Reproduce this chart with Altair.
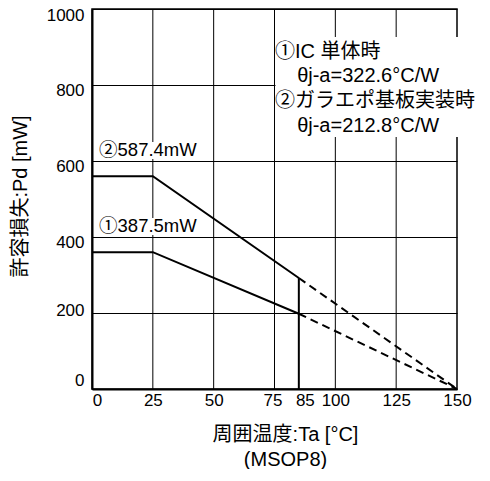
import altair as alt
import pandas as pd

FONT = "Liberation Sans, Noto Sans CJK JP, sans-serif"

# Derating curves (solid up to 85°C, dashed beyond)
temps_solid = [0, 25, 85]
pd_ic_solid = [360, 360, 198]
pd_board_solid = [560, 560, 292]
temps_dash = [85, 150]
pd_ic_dash = [198, 0]
pd_board_dash = [292, 0]

x_ticks = [0, 25, 50, 75, 85, 100, 125, 150]
x_grid = [25, 50, 75, 100, 125]
y_ticks = [0, 200, 400, 600, 800, 1000]

ann_text = ["②587.4mW", "①387.5mW"]
ann_x = [2.9, 2.9]
ann_y = [629, 429]

legend_lines = ["①IC 単体時", "θj-a=322.6°C/W", "②ガラエポ基板実装時", "θj-a=212.8°C/W"]
legend_x = [75.2, 84.3, 75.2, 84.3]
legend_y = [886, 823, 758, 692]

bg_x = [2.9, 2.9, 75.4]
bg_x2 = [43, 43, 152]
bg_y = [605, 405, 663]
bg_y2 = [650, 450, 926]

solid = pd.DataFrame({
    "t": temps_solid * 2,
    "p": pd_ic_solid + pd_board_solid,
    "s": ["ic"] * 3 + ["board"] * 3,
})
dashed = pd.DataFrame({
    "t": temps_dash * 2,
    "p": pd_ic_dash + pd_board_dash,
    "s": ["ic"] * 2 + ["board"] * 2,
})
grid_df = pd.DataFrame({"t": x_grid})
bg_df = pd.DataFrame({"x": bg_x, "x2": bg_x2, "y": bg_y, "y2": bg_y2})
ann_df = pd.DataFrame({"x": ann_x, "y": ann_y, "txt": ann_text})
leg_df = pd.DataFrame({"x": legend_x, "y": legend_y, "txt": legend_lines})
vline_df = pd.DataFrame({"t": [85], "p0": [0], "p1": [pd_board_solid[-1]]})

xscale = alt.Scale(domain=[0, 150], nice=False, zero=False)
yscale = alt.Scale(domain=[0, 1000], nice=False)

xaxis = alt.Axis(
    values=x_ticks, grid=False, ticks=False, labelFlush=False, format="d",
    labelPadding=3, labelFontSize=17, labelFont=FONT, labelColor="black",
    labelOffset=alt.ExprRef("datum.value == 0 ? 5 : datum.value == 85 ? 6 : datum.value == 75 ? -2 : 0"),
    title=["周囲温度:Ta [°C]", "(MSOP8)"], titleFont=FONT, titleFontSize=20,
    titleFontWeight="normal", titleColor="black", titleLineHeight=25,
    titleX=193, titleY=35, titleBaseline="top", titleAlign="center",
    domainColor="black", domainWidth=2,
)
yaxis = alt.Axis(
    values=y_ticks, grid=True, gridColor="black", gridWidth=1, gridOpacity=1,
    ticks=False, labelPadding=8, labelFontSize=17, labelFont=FONT, labelColor="black",
    labelBaseline="middle", format="d",
    labelOffset=alt.ExprRef("datum.value == 0 ? -9 : datum.value == 200 ? -3 : datum.value == 1000 ? 6 : 5"),
    title="許容損失:Pd [mW]", titleFont=FONT, titleFontSize=20,
    titleFontWeight="normal", titleColor="black",
    titleX=-72, titleY=187, titleAngle=-90, titleAlign="center", titleBaseline="middle",
    domainColor="black", domainWidth=2,
)

base_x = alt.X("t:Q", scale=xscale, axis=xaxis)
base_y = alt.Y("p:Q", scale=yscale, axis=yaxis)

grid = alt.Chart(grid_df).mark_rule(color="black", strokeWidth=1).encode(
    x=alt.X("t:Q", scale=xscale, axis=xaxis)
)

bg = alt.Chart(bg_df).mark_rect(color="white", clip=False).encode(
    x=alt.X("x:Q", scale=xscale), x2="x2:Q",
    y=alt.Y("y:Q", scale=yscale), y2="y2:Q",
)

solid_lines = alt.Chart(solid).mark_line(color="black", strokeWidth=2).encode(
    x=base_x, y=base_y, detail="s:N"
)
dashed_lines = alt.Chart(dashed).mark_line(color="black", strokeWidth=2, strokeDash=[8, 5]).encode(
    x=alt.X("t:Q", scale=xscale), y=alt.Y("p:Q", scale=yscale), detail="s:N"
)
vline = alt.Chart(vline_df).mark_rule(color="black", strokeWidth=2).encode(
    x=alt.X("t:Q", scale=xscale), y=alt.Y("p0:Q", scale=yscale), y2="p1:Q"
)

ann = alt.Chart(ann_df).mark_text(
    align="left", baseline="middle", font=FONT, fontSize=18.5, color="black"
).encode(x=alt.X("x:Q", scale=xscale), y=alt.Y("y:Q", scale=yscale), text="txt:N")

leg = alt.Chart(leg_df).mark_text(
    align="left", baseline="middle", font=FONT, fontSize=20, color="black"
).encode(x=alt.X("x:Q", scale=xscale), y=alt.Y("y:Q", scale=yscale), text="txt:N")

chart = alt.layer(grid, bg, solid_lines, dashed_lines, vline, ann, leg).properties(
    width=365, height=380,
    autosize=alt.AutoSizeParams(type="none"),
    padding={"left": 84, "top": 1, "right": 25, "bottom": 80},
    background="white",
).configure_view(stroke="black", strokeWidth=1.5)

chart.save("out.html", embed_options={"renderer": "svg", "actions": False})
